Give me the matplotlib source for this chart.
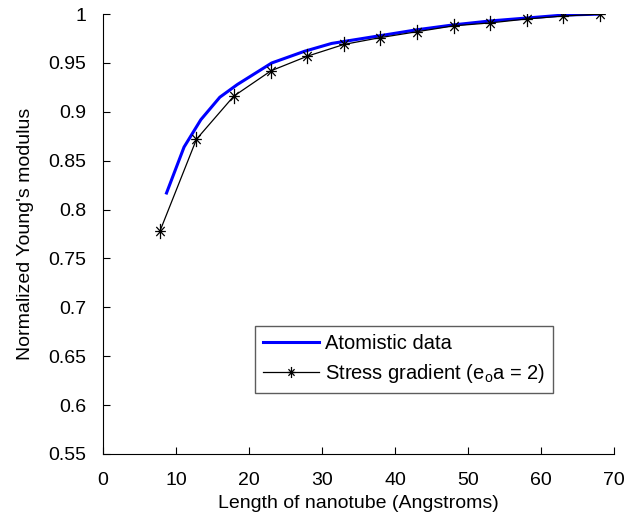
import matplotlib
matplotlib.use("Agg")
import matplotlib.pyplot as plt
from matplotlib.path import Path

plt.rcParams["font.family"] = ["Liberation Sans", "DejaVu Sans"]
plt.rcParams["mathtext.fontset"] = "custom"
plt.rcParams["mathtext.rm"] = "Liberation Sans"

# Atomistic data (blue line)
atom_len = [8.7, 11.1, 13.4, 16.0, 18.4, 23.1, 27.6, 31.3, 38.0, 43.0, 48.0, 53.0, 58.0, 63.0, 68.0]
atom_E = [0.817, 0.864, 0.892, 0.915, 0.928, 0.950, 0.962, 0.970, 0.978, 0.984, 0.989, 0.993, 0.996, 0.999, 1.0]

# Stress gradient model, e0a = 2
grad_len = [7.8, 12.8, 17.9, 23.0, 28.0, 33.0, 38.0, 43.0, 48.0, 53.0, 58.0, 63.0, 68.0]
grad_E = [0.778, 0.872, 0.916, 0.942, 0.957, 0.969, 0.976, 0.982, 0.988, 0.991, 0.995, 0.998, 1.0]

# matlab-like asterisk (plus + cross)
verts = [(0, -1), (0, 1), (-0.7, 0), (0.7, 0),
         (-0.55, -0.6), (0.55, 0.6), (-0.55, 0.6), (0.55, -0.6)]
codes = [Path.MOVETO, Path.LINETO] * 4
asterisk = Path(verts, codes)

fig = plt.figure(figsize=(6.28, 5.23), dpi=100)
ax = fig.add_axes([0.164, 0.132, 0.814, 0.841])

ax.plot(atom_len, atom_E, color="#0000ff", lw=2.2, label="Atomistic data")
ax.plot(grad_len, grad_E, color="black", lw=0.9, marker=asterisk, ms=11,
        mew=0.9, mfc="none", label=r"Stress gradient (e$_\mathregular{o}$a = 2)")

ax.set_xlim(0, 70)
ax.set_ylim(0.55, 1.0)
ax.set_xticks(range(0, 71, 10))
ax.set_yticks([0.55, 0.6, 0.65, 0.7, 0.75, 0.8, 0.85, 0.9, 0.95, 1.0])
ax.set_yticklabels(["0.55", "0.6", "0.65", "0.7", "0.75", "0.8", "0.85", "0.9", "0.95", "1"])
ax.tick_params(direction="in", labelsize=14, length=5)
ax.tick_params(axis="x", pad=13)
ax.tick_params(axis="y", pad=12)
ax.spines["top"].set_visible(False)
ax.spines["right"].set_visible(False)

ax.set_xlabel("Length of nanotube (Angstroms)", fontsize=14, labelpad=4)
ax.set_ylabel("Normalized Young's modulus", fontsize=14, labelpad=10)

leg = ax.legend(loc="upper left", bbox_to_anchor=(0.2975, 0.291), borderaxespad=0,
                fontsize=14.5, frameon=True, fancybox=False, edgecolor="#333333",
                handlelength=2.75, borderpad=0.4, labelspacing=0.45, handletextpad=0.3)
leg.get_frame().set_linewidth(1.0)
for h in leg.legend_handles:
    h.set_markersize(8)

fig.savefig("out.png", dpi=100)
